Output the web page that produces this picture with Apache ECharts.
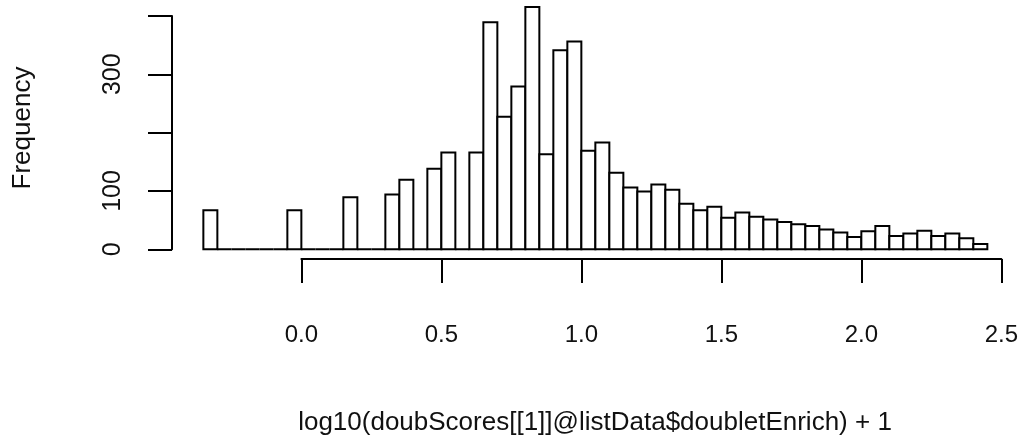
<!DOCTYPE html>
<html>
<head>
<meta charset="utf-8">
<script src="https://cdn.jsdelivr.net/npm/echarts@6/dist/echarts.min.js"></script>
<style>
  html, body { margin: 0; padding: 0; background: #fff; }
  #chart { width: 1021px; height: 442px; }
</style>
</head>
<body>
<div id="chart"></div>
<script>
// histogram bins (left edges) and counts
const binLefts = [-0.35, -0.30, -0.25, -0.20, -0.15, -0.10, -0.05, 0.00, 0.05, 0.10,
  0.15, 0.20, 0.25, 0.30, 0.35, 0.40, 0.45, 0.50, 0.55, 0.60,
  0.65, 0.70, 0.75, 0.80, 0.85, 0.90, 0.95, 1.00, 1.05, 1.10,
  1.15, 1.20, 1.25, 1.30, 1.35, 1.40, 1.45, 1.50, 1.55, 1.60,
  1.65, 1.70, 1.75, 1.80, 1.85, 1.90, 1.95, 2.00, 2.05, 2.10,
  2.15, 2.20, 2.25, 2.30, 2.35, 2.40];
const counts = [67, 0, 0, 0, 0, 0, 67, 0, 0, 0,
  89, 0, 0, 94, 119, 0, 138, 166, 0, 166,
  389, 227, 279, 415, 163, 341, 356, 169, 183, 131,
  106, 99, 111, 102, 78, 67, 73, 54, 63, 56,
  51, 47, 43, 40, 34, 29, 21, 31, 40, 23,
  27, 32, 23, 27, 19, 9];
const binWidth = 0.05;

// tick labels that R actually printed on the y axis
const yLabelsShown = [0, 100, 300];

const xTitle = "log10(doubScores[[1]]@listData$doubletEnrich) + 1";
const yTitle = "Frequency";

const font = "Liberation Sans";
const chart = echarts.init(document.getElementById("chart"));

const option = {
  animation: false,
  backgroundColor: "#fff",
  grid: [
    // plot region (R usr coords incl. 4% padding)
    { left: 172, top: 0, width: 846.7, height: 259 },
    // y axis only
    { left: 172, top: 15.9, width: 10, height: 233.4 },
    // x axis only
    { left: 301.4, top: 258, width: 700, height: 1 }
  ],
  xAxis: [
    { gridIndex: 0, type: "value", min: -0.462, max: 2.562, show: false },
    { gridIndex: 1, type: "value", min: 0, max: 1, show: false },
    {
      gridIndex: 2, type: "value", min: 0, max: 2.5, interval: 0.5,
      position: "bottom",
      axisLine: { show: true, lineStyle: { color: "#000", width: 2 } },
      axisTick: { show: true, length: 24, lineStyle: { color: "#000", width: 2 } },
      axisLabel: {
        margin: 64, color: "#111", fontFamily: font, fontSize: 24,
        showMinLabel: true, showMaxLabel: true,
        formatter: (v) => v.toFixed(1)
      },
      splitLine: { show: false }
    }
  ],
  yAxis: [
    { gridIndex: 0, type: "value", min: -16.6, max: 427.2, show: false },
    {
      gridIndex: 1, type: "value", min: 0, max: 400, interval: 100,
      position: "left",
      axisLine: { show: true, lineStyle: { color: "#000", width: 2 } },
      axisTick: { show: true, length: 24, lineStyle: { color: "#000", width: 2 } },
      axisLabel: {
        rotate: 90, margin: 46, color: "#111", fontFamily: font, fontSize: 25,
        showMinLabel: true, showMaxLabel: true,
        formatter: (v) => (yLabelsShown.includes(v) ? String(v) : "")
      },
      splitLine: { show: false }
    },
    { gridIndex: 2, type: "value", min: 0, max: 1, show: false }
  ],
  graphic: [
    {
      type: "text",
      x: 595, y: 423,
      style: {
        text: xTitle, fill: "#111", font: "26px " + font,
        textAlign: "center", textVerticalAlign: "middle"
      }
    },
    {
      type: "text",
      x: 23, y: 128, rotation: Math.PI / 2,
      style: {
        text: yTitle, fill: "#111", font: "26px " + font,
        textAlign: "center", textVerticalAlign: "middle"
      }
    }
  ],
  series: [
    {
      type: "custom",
      xAxisIndex: 0, yAxisIndex: 0,
      data: binLefts.map((x, i) => [x, counts[i]]),
      encode: { x: 0, y: 1 },
      renderItem: (params, api) => {
        const x0 = api.value(0);
        const h = api.value(1);
        const p0 = api.coord([x0, h]);
        const p1 = api.coord([x0 + binWidth, 0]);
        return {
          type: "rect",
          shape: { x: p0[0], y: p0[1], width: p1[0] - p0[0], height: p1[1] - p0[1] },
          style: { fill: "#fff", stroke: "#000", lineWidth: 2 }
        };
      }
    }
  ]
};

chart.setOption(option);
</script>
</body>
</html>
